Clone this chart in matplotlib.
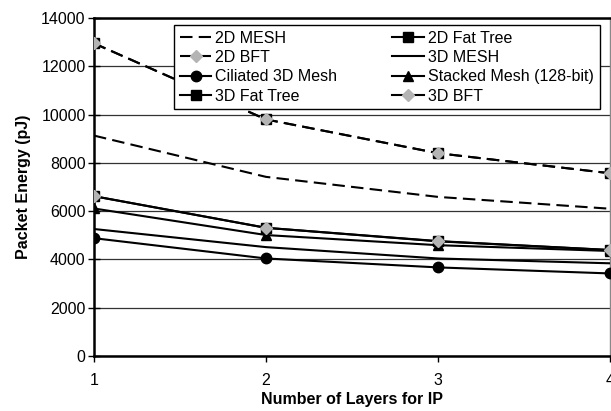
import matplotlib
matplotlib.use("Agg")
import matplotlib.pyplot as plt
from matplotlib.lines import Line2D

plt.rcParams['font.family'] = ['Liberation Sans', 'DejaVu Sans']

layers = [1, 2, 3, 4]
mesh_2d = [9130, 7420, 6590, 6100]
fat_tree_2d = [12950, 9800, 8400, 7570]
bft_2d = [12950, 9800, 8400, 7570]
mesh_3d = [5260, 4510, 4040, 3840]
ciliated_3d = [4880, 4040, 3670, 3420]
stacked_mesh = [6110, 5010, 4590, 4350]
fat_tree_3d = [6620, 5310, 4750, 4390]
bft_3d = [6620, 5310, 4760, 4390]

y_ticks = [0, 2000, 4000, 6000, 8000, 10000, 12000, 14000]
x_ticks = [1, 2, 3, 4]

fig = plt.figure(figsize=(6.11, 4.11), dpi=100)
ax = fig.add_axes([0.1538, 0.1338, 0.8446, 0.8224])

fs = 11.5
lw = 1.5
dash = (0, (6, 3))
grey = '#b4b4b4'

ax.plot(layers, mesh_2d, color='black', lw=lw, linestyle=dash, zorder=3)
ax.plot(layers, fat_tree_2d, color='black', lw=lw, linestyle=dash, marker='s', ms=6.5, zorder=3)
ax.plot(layers, bft_2d, color='black', lw=lw, linestyle=dash, marker='D', ms=6.5,
        markerfacecolor=grey, markeredgecolor=grey, zorder=4)
ax.plot(layers, mesh_3d, color='black', lw=lw, zorder=3)
ax.plot(layers, ciliated_3d, color='black', lw=lw, marker='o', ms=7.5, zorder=3)
ax.plot(layers, stacked_mesh, color='black', lw=lw, marker='^', ms=7.5, zorder=3)
ax.plot(layers, fat_tree_3d, color='black', lw=lw, marker='s', ms=6.5, zorder=3)
ax.plot(layers, bft_3d, color='black', lw=lw, marker='D', ms=6.5,
        markerfacecolor=grey, markeredgecolor=grey, zorder=4)

h = {
    '2D MESH': Line2D([], [], color='black', lw=lw, linestyle=dash),
    '2D Fat Tree': Line2D([], [], color='black', lw=lw, marker='s', ms=6.5),
    '2D BFT': Line2D([], [], color='black', lw=lw, linestyle=dash, marker='D', ms=6.5,
                     markerfacecolor=grey, markeredgecolor=grey),
    '3D MESH': Line2D([], [], color='black', lw=lw),
    'Ciliated 3D Mesh': Line2D([], [], color='black', lw=lw, marker='o', ms=7.5),
    'Stacked Mesh (128-bit)': Line2D([], [], color='black', lw=lw, marker='^', ms=7.5),
    '3D Fat Tree': Line2D([], [], color='black', lw=lw, marker='s', ms=6.5),
    '3D BFT': Line2D([], [], color='black', lw=lw, marker='D', ms=6.5,
                     markerfacecolor=grey, markeredgecolor=grey),
}
order = ['2D MESH', '2D BFT', 'Ciliated 3D Mesh', '3D Fat Tree',
         '2D Fat Tree', '3D MESH', 'Stacked Mesh (128-bit)', '3D BFT']

ax.set_xlim(1, 4)
ax.set_ylim(0, 14000)
ax.set_xticks(x_ticks)
ax.set_yticks(y_ticks)
ax.set_xticklabels([str(v) for v in x_ticks])
ax.set_yticklabels([str(v) for v in y_ticks])
ax.tick_params(axis='y', direction='inout', length=8, width=1, labelsize=fs, pad=2)
ax.tick_params(axis='x', direction='out', length=4, width=1, labelsize=fs, pad=8)

ax.grid(axis='y', color='#333333', lw=0.9, zorder=1)
for s in ['left', 'bottom', 'top']:
    ax.spines[s].set_linewidth(1.8)
    ax.spines[s].set_color('black')
ax.spines['right'].set_color('#888888')
ax.spines['right'].set_linewidth(1.0)

ax.set_xlabel('Number of Layers for IP', fontsize=fs, fontweight='bold', labelpad=3)
ax.set_ylabel('Packet Energy (pJ)', fontsize=fs, fontweight='bold', labelpad=7)

leg = ax.legend([h[k] for k in order], order, ncol=2, loc='upper left',
                bbox_to_anchor=(0.155, 0.719, 0.825, 0.26), mode='expand',
                fontsize=fs, frameon=True, fancybox=False, framealpha=1,
                edgecolor='black', handlelength=2.0, handletextpad=0.25,
                labelspacing=0.27, borderpad=0.35, borderaxespad=0)
leg.get_frame().set_linewidth(1.0)
leg.set_zorder(5)

fig.savefig('out.png', dpi=100)
